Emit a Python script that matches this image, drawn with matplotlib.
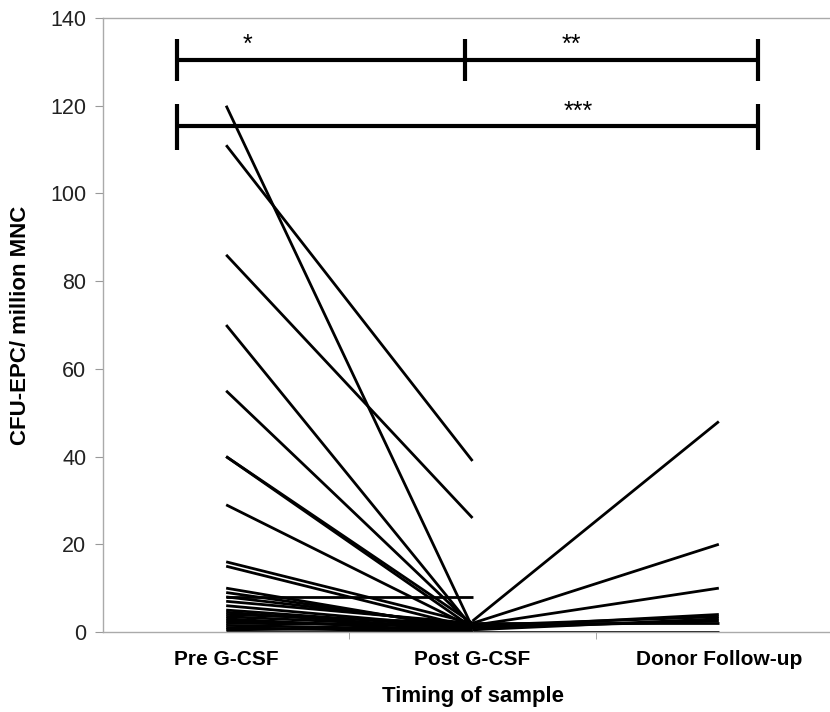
import numpy as np
import matplotlib.pyplot as plt

plt.rcParams['font.family'] = ['Liberation Sans', 'DejaVu Sans']

categories = ['Pre G-CSF', 'Post G-CSF', 'Donor Follow-up']

# CFU-EPC per million MNC for each donor, before and after G-CSF
pre_gcsf = [120, 111, 86, 70, 55, 40, 40, 29, 16, 15, 10, 9, 8, 8, 7, 6,
            5, 4.5, 4, 3.5, 3, 2.5, 2, 1.5, 1, 0.5, 0]
post_gcsf = [1, 39, 26, 1, 1.5, 1, 2, 1, 2, 1, 0.5, 1, 8, 1.5, 2, 1,
             1, 0.5, 2, 1, 0, 1, 1.5, 0.5, 0, 1, 0]

# donors seen again at follow-up (post value, follow-up value)
fu_post = [2.5, 2, 1.5, 1, 1.5, 0.5, 1, 2, 0]
fu_value = [48, 20, 10, 4, 3.5, 3, 2.5, 2, 0]

# significance brackets
bar_top_y = 130.5
bar_low_y = 115.3
bar_x = [-0.2, 0.97, 2.16]

fig = plt.figure(figsize=(8.3, 7.12), dpi=100)
ax = fig.add_axes([103 / 830, 80 / 712, 739 / 830, 614 / 712])

for a, b in zip(pre_gcsf, post_gcsf):
    ax.plot([0, 1], [a, b], color='black', lw=2.0, solid_capstyle='butt')
for a, b in zip(fu_post, fu_value):
    ax.plot([1, 2], [a, b], color='black', lw=2.0, solid_capstyle='butt')

# brackets
bar_kw = dict(color='black', lw=3.0, solid_capstyle='butt')
ax.plot([bar_x[0], bar_x[2]], [bar_top_y, bar_top_y], **bar_kw)
ax.plot([bar_x[0], bar_x[2]], [bar_low_y, bar_low_y], **bar_kw)
for x in bar_x:
    ax.plot([x, x], [bar_top_y - 4.8, bar_top_y + 4.8], **bar_kw)
for x in (bar_x[0], bar_x[2]):
    ax.plot([x, x], [bar_low_y - 5.5, bar_low_y + 5.2], **bar_kw)

ax.text(0.085, 133.8, '*', ha='center', va='center', fontsize=18)
ax.text(1.40, 133.8, '**', ha='center', va='center', fontsize=18)
ax.text(1.43, 118.6, '***', ha='center', va='center', fontsize=18)

ax.set_xlim(-0.5, 2.5)
ax.set_ylim(0, 140)
ax.set_yticks(np.arange(0, 141, 20))
ax.set_xticks([0, 1, 2])
ax.set_xticklabels(categories, fontsize=15, fontweight='bold')
ax.set_xticks([0.5, 1.5], minor=True)
ax.tick_params(axis='x', which='major', length=0, pad=13)
ax.tick_params(axis='x', which='minor', length=5, color='#999999', direction='out')
ax.tick_params(axis='y', length=6, color='#999999', labelsize=15.5, pad=6,
               labelcolor='#222222')

for s in ('left', 'bottom', 'top'):
    ax.spines[s].set_color('#aaaaaa')
    ax.spines[s].set_linewidth(1.0)
ax.spines['right'].set_visible(False)

ax.set_ylabel('CFU-EPC/ million MNC', fontsize=16, fontweight='bold', labelpad=14)
ax.set_xlabel('Timing of sample', fontsize=16, fontweight='bold', labelpad=12)

fig.savefig('out.png', dpi=100)
